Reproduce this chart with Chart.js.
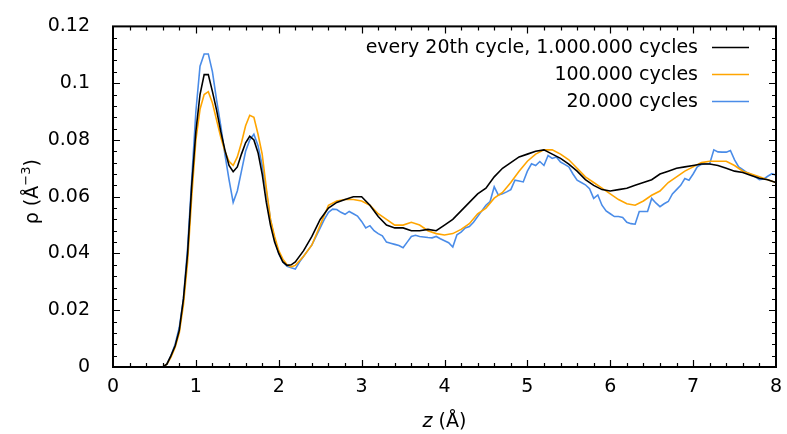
<!DOCTYPE html>
<html lang="en">
<head>
<meta charset="UTF-8">
<title>Density profile ρ(z)</title>
<script src="https://cdn.jsdelivr.net/npm/chart.js@4"></script>
<style>
  html, body { margin: 0; padding: 0; background: #fff; }
  #wrap { width: 787px; height: 434px; }
</style>
</head>
<body>
<div id="wrap"><canvas id="rhoChart" width="787" height="434"></canvas></div>
<script>
// z positions (Å) for the two smoother runs; denser around the first peaks
const zCoarse = [
  0.0, 0.1, 0.2, 0.3, 0.4, 0.5, 0.6, 0.65, 0.7, 0.75,
  0.80, 0.85, 0.90, 0.95, 1.00, 1.05, 1.10, 1.15, 1.20, 1.25,
  1.30, 1.35, 1.40, 1.45, 1.50, 1.55, 1.60, 1.65, 1.70, 1.75,
  1.80, 1.85, 1.90, 1.95, 2.00, 2.05, 2.10, 2.15, 2.20,
  2.3, 2.4, 2.5, 2.6, 2.7, 2.8, 2.9,
  3.0, 3.1, 3.2, 3.3, 3.4, 3.5, 3.6, 3.7, 3.8, 3.9,
  4.0, 4.1, 4.2, 4.3, 4.4, 4.5, 4.6, 4.7, 4.8, 4.9,
  5.0, 5.1, 5.2, 5.3, 5.4, 5.5, 5.6, 5.7, 5.8, 5.9,
  6.0, 6.1, 6.2, 6.3, 6.4, 6.5, 6.6, 6.7, 6.8, 6.9,
  7.0, 7.1, 7.2, 7.3, 7.4, 7.5, 7.6, 7.7, 7.8, 7.9,
  8.0
];

// every 20th cycle, 1.000.000 cycles
const rhoLong = [
  0, 0, 0, 0, 0, 0, 0, 0.001, 0.004, 0.0075,
  0.013, 0.024, 0.040, 0.064, 0.083, 0.096, 0.103, 0.103, 0.097, 0.0905,
  0.083, 0.0765, 0.071, 0.0688, 0.0705, 0.075, 0.079, 0.0813, 0.080, 0.0755,
  0.068, 0.058, 0.050, 0.044, 0.040, 0.037, 0.0358, 0.036, 0.037,
  0.041, 0.046, 0.052, 0.056, 0.058, 0.059, 0.060,
  0.060, 0.057, 0.053, 0.050, 0.049, 0.049, 0.048, 0.048, 0.0485, 0.048,
  0.050, 0.052, 0.055, 0.058, 0.061, 0.063, 0.067, 0.070, 0.072, 0.074,
  0.075, 0.076, 0.0765, 0.075, 0.0735, 0.0715, 0.069, 0.066, 0.064, 0.0625,
  0.062, 0.0625, 0.063, 0.064, 0.065, 0.066, 0.068, 0.069, 0.070, 0.0705,
  0.071, 0.0715, 0.0715, 0.071, 0.070, 0.069, 0.0685, 0.0675, 0.0665, 0.066,
  0.065
];

// 100.000 cycles
const rho100k = [
  0, 0, 0, 0, 0, 0, 0, 0.001, 0.0035, 0.007,
  0.012, 0.022, 0.037, 0.060, 0.080, 0.0908, 0.096, 0.097, 0.093, 0.087,
  0.081, 0.076, 0.0725, 0.071, 0.074, 0.079, 0.085, 0.0887, 0.088, 0.082,
  0.075, 0.063, 0.052, 0.046, 0.041, 0.038, 0.036, 0.0353, 0.0358,
  0.039, 0.043, 0.050, 0.057, 0.0585, 0.059, 0.059,
  0.0585, 0.057, 0.054, 0.052, 0.050, 0.050, 0.051, 0.050, 0.048, 0.047,
  0.0465, 0.047, 0.0485, 0.0505, 0.054, 0.056, 0.0595, 0.0615, 0.065, 0.069,
  0.0725, 0.075, 0.0765, 0.0765, 0.075, 0.073, 0.070, 0.067, 0.065, 0.063,
  0.061, 0.059, 0.0575, 0.057, 0.0585, 0.0605, 0.062, 0.065, 0.067, 0.069,
  0.0705, 0.072, 0.0725, 0.0725, 0.0725, 0.071, 0.069, 0.068, 0.067, 0.066,
  0.065
];

// z positions (Å) for the short, noisier run
const zFine = [
  0.00, 0.05, 0.10, 0.15, 0.20, 0.25, 0.30, 0.35, 0.40, 0.45,
  0.50, 0.55, 0.60, 0.65, 0.70, 0.75, 0.80, 0.85, 0.90, 0.95,
  1.00, 1.05, 1.10, 1.15, 1.20, 1.25, 1.30, 1.35, 1.40, 1.45,
  1.50, 1.55, 1.60, 1.65, 1.70, 1.75, 1.80, 1.85, 1.90, 1.95,
  2.00, 2.05, 2.10, 2.15, 2.20, 2.25, 2.30, 2.35, 2.40, 2.45,
  2.50, 2.55, 2.60, 2.65, 2.70, 2.75, 2.80, 2.85, 2.90, 2.95,
  3.00, 3.05, 3.10, 3.15, 3.20, 3.25, 3.30, 3.35, 3.40, 3.45,
  3.50, 3.55, 3.60, 3.65, 3.70, 3.75, 3.80, 3.85, 3.90, 3.95,
  4.00, 4.05, 4.10, 4.15, 4.20, 4.25, 4.30, 4.35, 4.40, 4.45,
  4.50, 4.55, 4.60, 4.65, 4.70, 4.75, 4.80, 4.85, 4.90, 4.95,
  5.00, 5.05, 5.10, 5.15, 5.20, 5.25, 5.30, 5.35, 5.40, 5.45,
  5.50, 5.55, 5.60, 5.65, 5.70, 5.75, 5.80, 5.85, 5.90, 5.95,
  6.00, 6.05, 6.10, 6.15, 6.20, 6.25, 6.30, 6.35, 6.40, 6.45,
  6.50, 6.55, 6.60, 6.65, 6.70, 6.75, 6.80, 6.85, 6.90, 6.95,
  7.00, 7.05, 7.10, 7.15, 7.20, 7.25, 7.30, 7.35, 7.40, 7.45,
  7.50, 7.55, 7.60, 7.65, 7.70, 7.75, 7.80, 7.85, 7.90, 7.95,
  8.00
];

// 20.000 cycles
const rho20k = [
  0, 0, 0, 0, 0, 0, 0, 0, 0, 0,
  0, 0, 0, 0.001, 0.004, 0.008, 0.014, 0.024, 0.042, 0.066,
  0.090, 0.106, 0.1103, 0.1103, 0.104, 0.094, 0.085, 0.075, 0.066, 0.058,
  0.062, 0.069, 0.076, 0.080, 0.082, 0.078, 0.071, 0.062, 0.052, 0.045,
  0.040, 0.037, 0.0355, 0.035, 0.0345, 0.037, 0.039, 0.041, 0.043, 0.046,
  0.049, 0.052, 0.0545, 0.0556, 0.0555, 0.0545, 0.0538, 0.0548, 0.054, 0.0532,
  0.0513, 0.049, 0.0498, 0.048, 0.047, 0.0462, 0.044, 0.0436, 0.0432, 0.0428,
  0.042, 0.044, 0.046, 0.0464, 0.046, 0.0458, 0.0456, 0.0455, 0.046, 0.0452,
  0.0445, 0.0438, 0.0423, 0.0466, 0.0475, 0.049, 0.0495, 0.051, 0.053, 0.055,
  0.057, 0.0583, 0.0635, 0.0606, 0.061, 0.0617, 0.0625, 0.0658, 0.0655, 0.0652,
  0.069, 0.0716, 0.071, 0.0724, 0.071, 0.0745, 0.0735, 0.074, 0.0722, 0.0714,
  0.0705, 0.068, 0.0658, 0.065, 0.0642, 0.0628, 0.0594, 0.0606, 0.057, 0.055,
  0.054, 0.053, 0.053, 0.0527, 0.051, 0.0505, 0.0503, 0.0548, 0.0548, 0.0548,
  0.0594, 0.0578, 0.0565, 0.0575, 0.0583, 0.061, 0.0625, 0.064, 0.0664, 0.0658,
  0.068, 0.0705, 0.0714, 0.0716, 0.0716, 0.0765, 0.0758, 0.0757, 0.0757, 0.0763,
  0.073, 0.0705, 0.0695, 0.0685, 0.0678, 0.067, 0.066, 0.0662, 0.0672, 0.0681,
  0.0676
];

const seriesLabels = ['every 20th cycle, 1.000.000 cycles', '100.000 cycles', '20.000 cycles'];
const seriesColors = ['#000000', '#ffa500', '#4a8ce8'];

const FONT = 'DejaVu Sans';
const FONT_SIZE = 19;

function pairs(xs, ys) {
  return xs.map((x, i) => ({ x: x, y: ys[i] }));
}

// frame with inward major/minor ticks on all four sides, gnuplot style
const framePlugin = {
  id: 'frame',
  afterDraw(chart) {
    const { ctx, chartArea: a, scales } = chart;
    const xs = scales.x, ys = scales.y;
    ctx.save();
    ctx.strokeStyle = '#000';
    ctx.lineWidth = 1.2;
    ctx.beginPath();
    for (let i = 1; i < 40; i++) {
      const px = Math.round(xs.getPixelForValue(i * 0.2)) + 0.5;
      const len = i % 5 === 0 ? 7 : 4;
      ctx.moveTo(px, a.bottom); ctx.lineTo(px, a.bottom - len);
      ctx.moveTo(px, a.top); ctx.lineTo(px, a.top + len);
    }
    for (let i = 1; i < 30; i++) {
      const py = Math.round(ys.getPixelForValue(i * 0.004)) + 0.5;
      const len = i % 5 === 0 ? 7 : 4;
      ctx.moveTo(a.left, py); ctx.lineTo(a.left + len, py);
      ctx.moveTo(a.right, py); ctx.lineTo(a.right - len, py);
    }
    ctx.stroke();
    ctx.lineWidth = 2;
    ctx.strokeRect(a.left, a.top, a.right - a.left, a.bottom - a.top);
    ctx.restore();
  }
};

// right-aligned key with the line sample after the text
const keyPlugin = {
  id: 'key',
  afterDraw(chart) {
    const ctx = chart.ctx;
    ctx.save();
    ctx.font = FONT_SIZE + 'px "' + FONT + '"';
    ctx.textAlign = 'right';
    ctx.textBaseline = 'middle';
    ctx.fillStyle = '#000';
    chart.data.datasets.forEach((ds, i) => {
      const y = 47 + i * 27;
      ctx.fillText(ds.label, 698, y + 1);
      ctx.strokeStyle = ds.borderColor;
      ctx.lineWidth = 1.6;
      ctx.beginPath();
      ctx.moveTo(712, y + 0.5);
      ctx.lineTo(749, y + 0.5);
      ctx.stroke();
    });
    ctx.restore();
  }
};

// axis titles: italic z, and rho with a superscript exponent
const titlePlugin = {
  id: 'titles',
  afterDraw(chart) {
    const { ctx, chartArea: a } = chart;
    ctx.save();
    ctx.fillStyle = '#000';
    ctx.textBaseline = 'alphabetic';
    ctx.textAlign = 'left';

    const italic = 'italic ' + FONT_SIZE + 'px "' + FONT + '"';
    const normal = FONT_SIZE + 'px "' + FONT + '"';
    const small = '13px "' + FONT + '"';

    ctx.font = italic;
    const wz = ctx.measureText('z').width;
    ctx.font = normal;
    const wr = ctx.measureText(' (Å)').width;
    let x0 = (a.left + a.right) / 2 - (wz + wr) / 2;
    ctx.font = italic;
    ctx.fillText('z', x0, 427);
    ctx.font = normal;
    ctx.fillText(' (Å)', x0 + wz, 427);

    const partA = 'ρ (Å', sup = '−3', partB = ')';
    ctx.font = normal;
    const wA = ctx.measureText(partA).width;
    const wB = ctx.measureText(partB).width;
    ctx.font = small;
    const wS = ctx.measureText(sup).width;
    const total = wA + wS + wB;
    ctx.translate(24, (a.top + a.bottom) / 2 - 5);
    ctx.rotate(-Math.PI / 2);
    let s = -total / 2;
    ctx.font = normal;
    ctx.fillText(partA, s, 14);
    ctx.font = small;
    ctx.fillText(sup, s + wA, 6);
    ctx.font = normal;
    ctx.fillText(partB, s + wA + wS, 14);
    ctx.restore();
  }
};

new Chart(document.getElementById('rhoChart'), {
  type: 'line',
  data: {
    datasets: [
      { label: seriesLabels[0], data: pairs(zCoarse, rhoLong), borderColor: seriesColors[0] },
      { label: seriesLabels[1], data: pairs(zCoarse, rho100k), borderColor: seriesColors[1] },
      { label: seriesLabels[2], data: pairs(zFine, rho20k), borderColor: seriesColors[2] }
    ]
  },
  options: {
    responsive: false,
    animation: false,
    devicePixelRatio: 1,
    layout: { padding: { top: 23, right: 11, left: 0, bottom: 0 } },
    elements: {
      line: { borderWidth: 1.6, tension: 0, fill: false },
      point: { radius: 0, hoverRadius: 0 }
    },
    plugins: {
      legend: { display: false },
      tooltip: { enabled: false }
    },
    scales: {
      x: {
        type: 'linear',
        min: 0,
        max: 8,
        grid: { display: false },
        border: { display: false },
        ticks: {
          stepSize: 1,
          padding: 1,
          color: '#000',
          font: { family: FONT, size: FONT_SIZE }
        },
        afterFit(scale) { scale.height = 67; }
      },
      y: {
        type: 'linear',
        min: 0,
        max: 0.12,
        grid: { display: false },
        border: { display: false },
        ticks: {
          stepSize: 0.02,
          padding: 15,
          color: '#000',
          font: { family: FONT, size: FONT_SIZE },
          callback: v => String(+v.toFixed(2))
        },
        afterFit(scale) { scale.width = 113; }
      }
    }
  },
  plugins: [framePlugin, keyPlugin, titlePlugin]
});
</script>
</body>
</html>
